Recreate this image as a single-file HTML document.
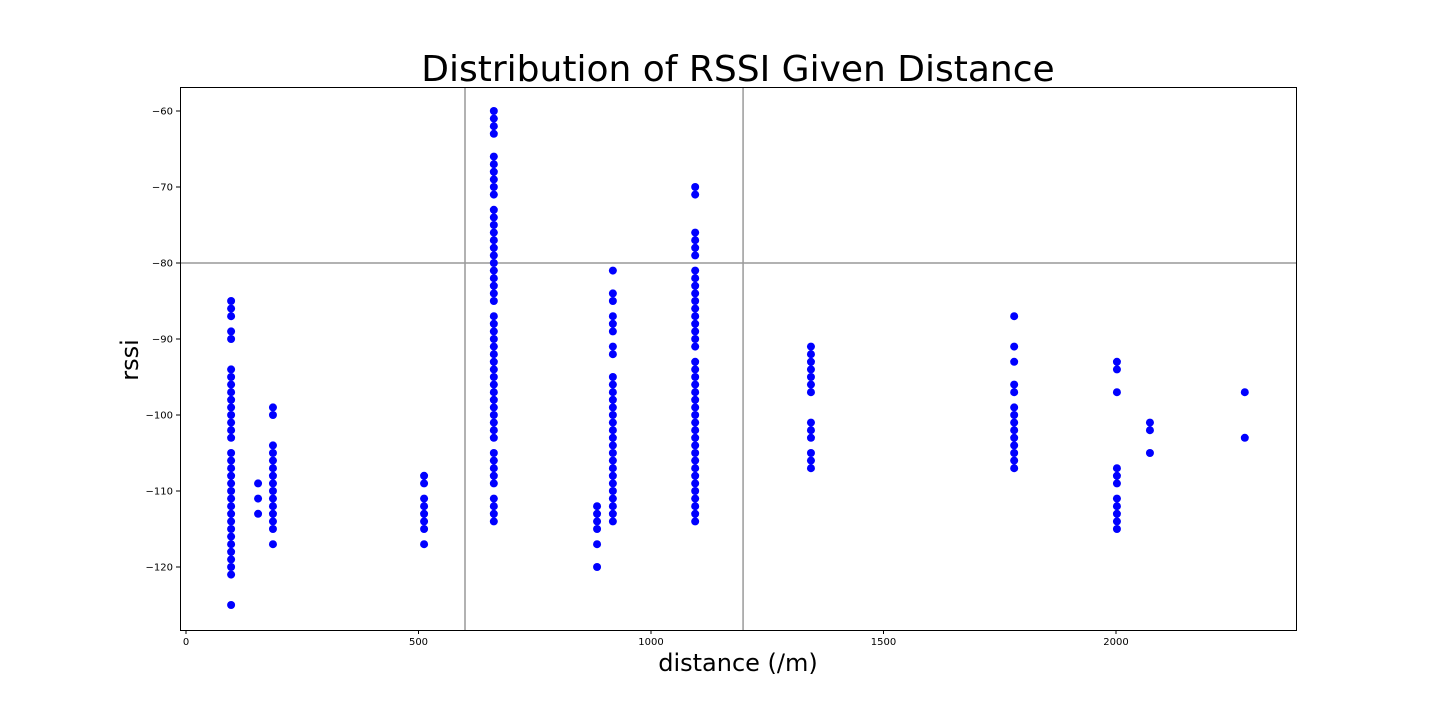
<!DOCTYPE html>
<html><head><meta charset="utf-8"><style>
body{margin:0;background:#fff;}
svg{display:block;font-family:"DejaVu Sans","Liberation Sans",sans-serif;}
</style></head><body>
<svg id="chart" width="1440" height="720">
<text x="738" y="81" text-anchor="middle" font-size="36">Distribution of RSSI Given Distance</text>
<text x="738" y="671" text-anchor="middle" font-size="24">distance (/m)</text>
<text x="138" y="360" text-anchor="middle" font-size="24" transform="rotate(-90 138 360)">rssi</text>
<g id="marks"></g>
<rect x="180.5" y="87.5" width="1116" height="543" fill="none" stroke="#000" stroke-width="1"/>
</svg>
<script>
const distances=[97,155,187,512,662,884,918,1095,1344,1781,2002,2073,2277];
const rssiValues=[
[-85,-86,-87,-89,-90,-94,-95,-96,-97,-98,-99,-100,-101,-102,-103,-105,-106,-107,-108,-109,-110,-111,-112,-113,-114,-115,-116,-117,-118,-119,-120,-121,-125],
[-109,-111,-113],
[-99,-100,-104,-105,-106,-107,-108,-109,-110,-111,-112,-113,-114,-115,-117],
[-108,-109,-111,-112,-113,-114,-115,-117],
[-60,-61,-62,-63,-66,-67,-68,-69,-70,-71,-73,-74,-75,-76,-77,-78,-79,-80,-81,-82,-83,-84,-85,-87,-88,-89,-90,-91,-92,-93,-94,-95,-96,-97,-98,-99,-100,-101,-102,-103,-105,-106,-107,-108,-109,-111,-112,-113,-114],
[-112,-113,-114,-115,-117,-120],
[-81,-84,-85,-87,-88,-89,-91,-92,-95,-96,-97,-98,-99,-100,-101,-102,-103,-104,-105,-106,-107,-108,-109,-110,-111,-112,-113,-114],
[-70,-71,-76,-77,-78,-79,-81,-82,-83,-84,-85,-86,-87,-88,-89,-90,-91,-93,-94,-95,-96,-97,-98,-99,-100,-101,-102,-103,-104,-105,-106,-107,-108,-109,-110,-111,-112,-113,-114],
[-91,-92,-93,-94,-95,-96,-97,-101,-102,-103,-105,-106,-107],
[-87,-91,-93,-96,-97,-99,-100,-101,-102,-103,-104,-105,-106,-107],
[-93,-94,-97,-107,-108,-109,-111,-112,-113,-114,-115],
[-101,-102,-105],
[-97,-103]
];
const xTicks=[0,500,1000,1500,2000];
const yTicks=[-60,-70,-80,-90,-100,-110,-120];
const vLines=[600,1198];
const hLines=[-80];
const NS='http://www.w3.org/2000/svg';
const X=v=>186+v*0.465;
const Y=v=>111+(-60-v)*7.6;
const g=document.getElementById('marks');
function mk(t,a){const e=document.createElementNS(NS,t);for(const k in a)e.setAttribute(k,a[k]);return e;}
vLines.forEach(v=>{const l=mk('line',{x1:X(v),x2:X(v),y1:87,y2:630,stroke:'#999','stroke-width':1.5});

g.appendChild(l);});
hLines.forEach(v=>{const l=mk('line',{x1:180,x2:1296,y1:Y(v),y2:Y(v),stroke:'#999','stroke-width':1.5});

g.appendChild(l);});
xTicks.forEach(v=>{const l=mk('line',{x1:X(v),x2:X(v),y1:630,y2:634,stroke:'#000'});

g.appendChild(l);
const t=mk('text',{x:X(v),y:645,'text-anchor':'middle','font-size':10});t.textContent=v;

g.appendChild(t);});
yTicks.forEach(v=>{const l=mk('line',{x1:176,x2:180,y1:Y(v),y2:Y(v),stroke:'#000'});

g.appendChild(l);
const t=mk('text',{x:173,y:Y(v)+3.5,'text-anchor':'end','font-size':10});t.textContent='\u2212'+Math.abs(v);

g.appendChild(t);});
distances.forEach((d,i)=>{rssiValues[i].forEach(r=>{const c=mk('circle',{cx:X(d),cy:Y(r),r:4,fill:'#0000ff'});

g.appendChild(c);});});
</script>
</body></html>
